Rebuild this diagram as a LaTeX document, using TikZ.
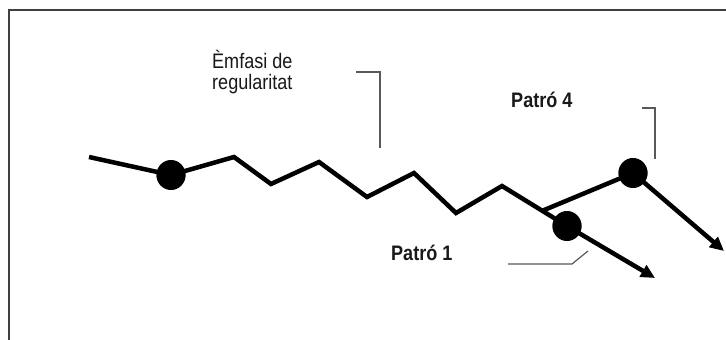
\documentclass[tikz,border=0pt]{standalone}
\usepackage{fontspec}
\setmainfont{Liberation Sans}
\newfontfamily\narrowsans[FakeStretch=0.86]{Liberation Sans}
\usetikzlibrary{arrows.meta,calc}
\begin{document}
\begin{tikzpicture}[x=1pt,y=-1pt,
  zig/.style={line width=4.5pt,line join=miter,black},
  dotnode/.style={ellipse,fill=black,inner sep=0pt,minimum width=29pt,minimum height=30pt},
  arr/.style={line width=4.5pt,-{Triangle[length=14pt,width=13pt]}},
  lead/.style={line width=1.2pt,draw=black!65},
  lbl/.style={font=\narrowsans\fontsize{21}{20.5}\selectfont,text=black!90,inner sep=0pt,anchor=west,align=left},
  lblb/.style={lbl,font=\narrowsans\fontsize{21}{20.5}\selectfont\bfseries}]
\useasboundingbox (0,0) rectangle (726,340);
\fill[white] (0,0) rectangle (726,340);
% frame
\draw[line width=1.5pt,draw=black!75] (9,341) -- (9,10) -- (727,10);
% zigzag points
\coordinate (s) at (89,157);
\node[circle,fill=black,inner sep=0pt,minimum size=29pt] (d1) at (171,175) {};
\coordinate (p1) at (234,157);
\coordinate (v1) at (271,184);
\coordinate (p2) at (319,162);
\coordinate (v2) at (367,197);
\coordinate (p3) at (414,173);
\coordinate (v3) at (456,213);
\coordinate (p4) at (502,186);
\node[circle,fill=black,inner sep=0pt,minimum size=29pt] (d2) at (567,226) {};
\node[circle,fill=black,inner sep=0pt,minimum size=29pt] (d3) at (633,173) {};
\coordinate (j) at ($(p4)!0.62!(d2.center)$);
\coordinate (e1) at (655,278);
\coordinate (e2) at (724,251);
\draw[zig] (s) -- (d1.center) -- (p1) -- (v1) -- (p2) -- (v2) -- (p3) -- (v3) -- (p4) -- (d2.center);
\draw[zig] (j) -- (d3.center);
\fill (d1) circle[x radius=14.5pt,y radius=-15pt];
\fill (d2) circle[x radius=14.5pt,y radius=-15pt];
\fill (d3) circle[x radius=14.5pt,y radius=-15pt];
\draw[arr] (d2.center) -- (e1);
\draw[arr] (d3.center) -- (e2);
% labels
\node[lbl] (t1) at (212,72) {Èmfasi de\\regularitat};
\node[lblb] (t4) at (511,100) {Patró 4};
\node[lblb] (t2) at (391,253) {Patró 1};
% leaders
\coordinate (b1a) at (356,72);
\coordinate (b1b) at (380,72);
\coordinate (b1c) at (380,148);
\draw[lead] (b1a) -- (b1b) -- (b1c);
\coordinate (b4a) at (642,108);
\coordinate (b4b) at (655,108);
\coordinate (b4c) at (655,159);
\draw[lead] (b4a) -- (b4b) -- (b4c);
\coordinate (b2a) at (508,264);
\coordinate (b2b) at (572,264);
\coordinate (b2c) at (588,251);
\draw[lead] (b2a) -- (b2b) -- (b2c);
\end{tikzpicture}
\end{document}
